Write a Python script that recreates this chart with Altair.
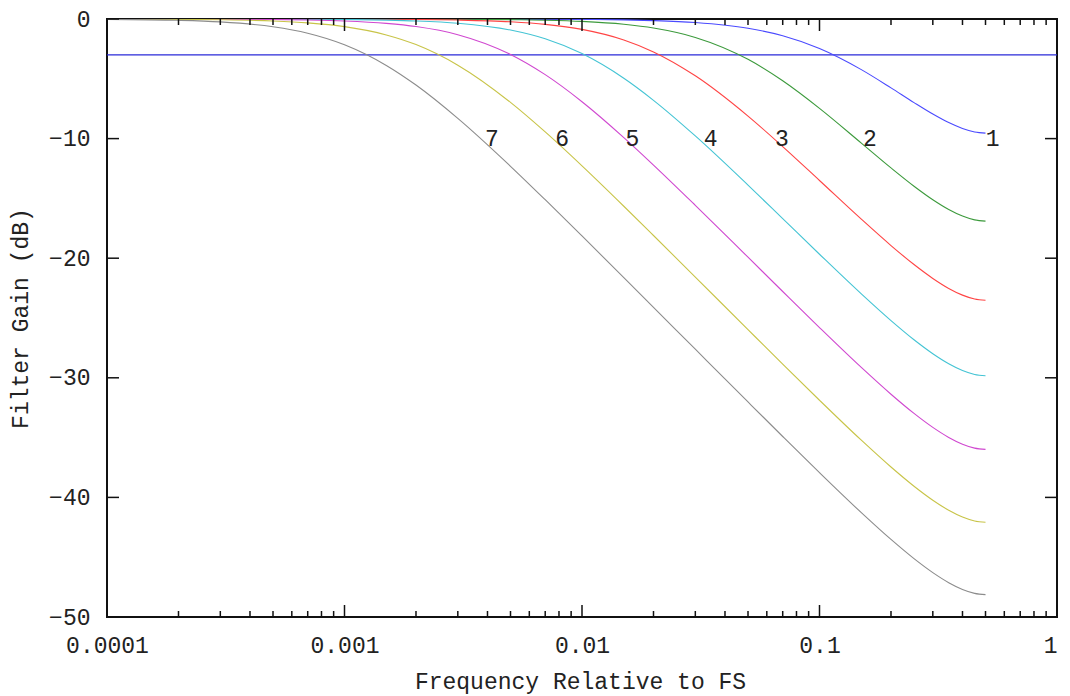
import altair as alt
import pandas as pd

# Frequencies (relative to FS) at which curve values were read
freq = [0.0001, 0.0002, 0.0003, 0.0005, 0.0007, 0.001, 0.0015, 0.002, 0.003,
        0.005, 0.007, 0.01, 0.015, 0.02, 0.03, 0.05, 0.07, 0.1, 0.15, 0.2,
        0.25, 0.3, 0.35, 0.4, 0.45, 0.5]

gain_1 = [0.0, 0.0, 0.0, 0.0, 0.0, 0.0, -0.001, -0.001, -0.003,
          -0.009, -0.017, -0.034, -0.076, -0.135, -0.297, -0.777, -1.401, -2.465, -4.231, -5.756,
          -6.990, -7.949, -8.664, -9.157, -9.447, -9.542]
gain_2 = [0.0, 0.0, 0.0, 0.0, -0.001, -0.002, -0.005, -0.008, -0.019,
          -0.051, -0.100, -0.201, -0.440, -0.753, -1.539, -3.374, -5.164, -7.469, -10.372, -12.451,
          -13.979, -15.108, -15.923, -16.475, -16.797, -16.902]
gain_3 = [0.0, 0.0, -0.001, -0.002, -0.005, -0.010, -0.022, -0.038, -0.086,
          -0.234, -0.447, -0.867, -1.752, -2.749, -4.748, -8.117, -10.667, -13.501, -16.737, -18.943,
          -20.531, -21.691, -22.525, -23.088, -23.415, -23.522]
gain_4 = [0.0, -0.002, -0.004, -0.010, -0.020, -0.041, -0.092, -0.162, -0.355,
          -0.923, -1.656, -2.894, -4.956, -6.799, -9.778, -13.891, -16.692, -19.669, -22.986, -25.220,
          -26.822, -27.989, -28.826, -29.392, -29.720, -29.827]
gain_5 = [-0.002, -0.007, -0.015, -0.042, -0.083, -0.167, -0.367, -0.632, -1.311,
          -2.964, -4.652, -6.915, -9.915, -12.213, -15.580, -19.917, -22.783, -25.797, -29.132, -31.373,
          -32.978, -34.147, -34.985, -35.551, -35.879, -35.987]
gain_6 = [-0.007, -0.028, -0.062, -0.169, -0.326, -0.641, -1.330, -2.140, -3.861,
          -6.972, -9.444, -12.282, -15.657, -18.102, -21.579, -25.973, -28.856, -31.878, -35.218, -37.461,
          -39.066, -40.235, -41.074, -41.640, -41.969, -42.076]
gain_7 = [-0.028, -0.110, -0.244, -0.646, -1.188, -2.153, -3.881, -5.523, -8.310,
          -12.315, -15.111, -18.140, -21.622, -24.106, -27.611, -32.020, -34.907, -37.931, -41.272, -43.515,
          -45.121, -46.290, -47.128, -47.695, -48.023, -48.131]

series_names = ["1", "2", "3", "4", "5", "6", "7"]
series_colors = ["#4a4aff", "#3c9a3c", "#ff4444", "#44c4d4", "#d048d0", "#c8c448", "#8c8c8c"]

# Curve labels (position)
label_text = ["1", "2", "3", "4", "5", "6", "7"]
label_freq = [0.536, 0.163, 0.0695, 0.0348, 0.0163, 0.00825, 0.00418]
label_gain = [-10, -10, -10, -10, -10, -10, -10]

cutoff_db = [-3]

x_major = [0.0001, 0.001, 0.01, 0.1, 1]
x_minor = [m * d for d in [0.0001, 0.001, 0.01, 0.1] for m in range(2, 10)]
y_major = [-50, -40, -30, -20, -10, 0]

W, H = 950, 598
FONT = "Liberation Mono"

gains = [gain_1, gain_2, gain_3, gain_4, gain_5, gain_6, gain_7]
rows = []
for name, g in zip(series_names, gains):
    for f, v in zip(freq, g):
        rows.append({"f": f, "g": v, "s": name})
curves = pd.DataFrame(rows)

labels = pd.DataFrame({"f": label_freq, "g": label_gain, "lab": label_text})
hline = pd.DataFrame({"g": cutoff_db})
xmaj = pd.DataFrame({"f": x_major})
xmin = pd.DataFrame({"f": x_minor})
ymaj = pd.DataFrame({"g": y_major})

xscale = alt.Scale(type="log", domain=[0.0001, 1], nice=False)
yscale = alt.Scale(domain=[-50, 0], nice=False)

x_axis = alt.Axis(
    values=x_major, format=".4~f", ticks=False, tickSize=0, domain=False, grid=False,
    labelFlush=False, labelPadding=17, labelFont=FONT, labelFontSize=23, labelColor="#222",
    labelAlign={"condition": {"test": "datum.value >= 1", "value": "right"}, "value": "center"},
    title="Frequency Relative to FS", titleFont=FONT, titleFontSize=23, titleFontWeight="normal",
    titleColor="#222", titleX=W / 2 - 2, titleY=71, titleBaseline="alphabetic", titleAlign="center",
)
y_axis = alt.Axis(
    values=y_major, ticks=False, tickSize=0, domain=False, grid=False,
    labelPadding=17, labelFont=FONT, labelFontSize=23, labelColor="#222",
    title="Filter Gain (dB)", titleFont=FONT, titleFontSize=23, titleFontWeight="normal",
    titleColor="#222", titleX=-87, titleY=H / 2, titleAngle=-90,
    titleBaseline="middle", titleAlign="center",
)

X = alt.X("f:Q", scale=xscale, axis=x_axis)
Y = alt.Y("g:Q", scale=yscale, axis=y_axis)

lines = alt.Chart(curves).mark_line(strokeWidth=1.1, clip=True, interpolate="monotone").encode(
    x=X, y=Y,
    color=alt.Color("s:N", scale=alt.Scale(domain=series_names, range=series_colors), legend=None),
    detail="s:N",
)

cut = alt.Chart(hline).mark_rule(color="#2a2ad8", strokeWidth=1.2).encode(y=Y)

text = alt.Chart(labels).mark_text(font=FONT, fontSize=23, color="#222",
                                   align="center", baseline="middle").encode(
    x=X, y=Y, text="lab:N")

tick_style = dict(color="#111", strokeWidth=1.5)
bot_major = alt.Chart(xmaj).mark_rule(**tick_style).encode(x=X, y=alt.value(H), y2=alt.value(H - 12))
top_major = alt.Chart(xmaj).mark_rule(**tick_style).encode(x=X, y=alt.value(0), y2=alt.value(12))
bot_minor = alt.Chart(xmin).mark_rule(**tick_style).encode(x=X, y=alt.value(H), y2=alt.value(H - 6))
top_minor = alt.Chart(xmin).mark_rule(**tick_style).encode(x=X, y=alt.value(0), y2=alt.value(6))
left_major = alt.Chart(ymaj).mark_rule(**tick_style).encode(y=Y, x=alt.value(0), x2=alt.value(12))
right_major = alt.Chart(ymaj).mark_rule(**tick_style).encode(y=Y, x=alt.value(W), x2=alt.value(W - 12))

chart = alt.layer(
    cut, lines, text, bot_major, top_major, bot_minor, top_minor, left_major, right_major
).properties(
    width=W, height=H,
    autosize=alt.AutoSizeParams(type="none"),
    padding={"left": 99, "top": 11, "right": 1, "bottom": 79},
    background="white",
).configure_view(stroke="#111", strokeWidth=2)

chart.save("out.html", embed_options={"renderer": "svg", "actions": False})
